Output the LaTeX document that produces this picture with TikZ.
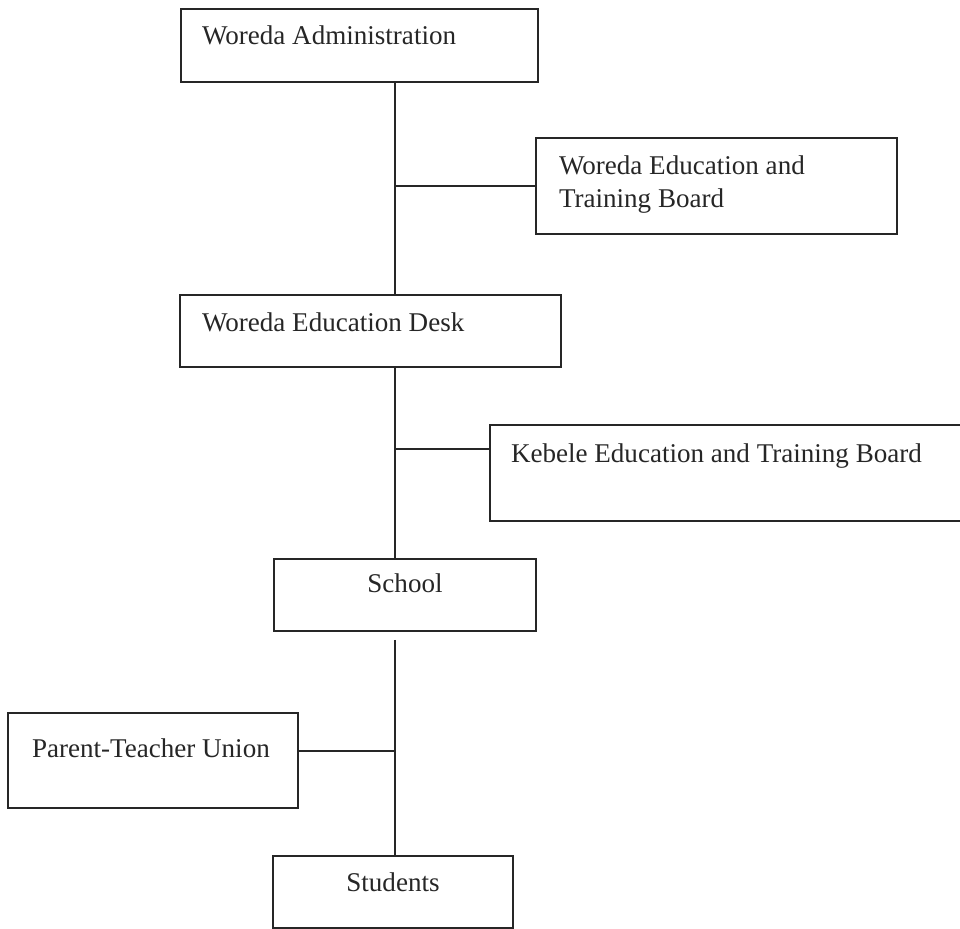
\documentclass[tikz,border=0pt]{standalone}
\usepackage{fontspec}
\setmainfont{Liberation Serif}
\usetikzlibrary{positioning, calc}

\begin{document}
\begin{tikzpicture}[line width=0.95pt, draw=black!85,
    box/.style={draw=black!85, rectangle, inner sep=0pt},
    lbl/.style={anchor=base west, inner sep=0pt, align=left, text=black!85,
                font=\fontsize{15.4}{18.7}\selectfont},
    lblc/.style={lbl, anchor=base}]
  \useasboundingbox (0,0) rectangle (19.2,-18.56);

  % Boxes
  \node[box, minimum width=7.14cm, minimum height=1.46cm,
        label={[lbl, xshift=0.42cm, yshift=-0.72cm]north west:Woreda Administration}]
        (admin) at (7.19,-0.91) {};
  \node[box, minimum width=7.22cm, minimum height=1.92cm,
        label={[lbl, xshift=0.46cm, yshift=-1.40cm]north west:Woreda Education and\\Training Board}]
        (wetb) at (14.33,-3.72) {};
  \node[box, minimum width=7.62cm, minimum height=1.44cm,
        label={[lbl, xshift=0.44cm, yshift=-0.74cm]north west:Woreda Education Desk}]
        (desk) at (7.41,-6.62) {};
  \node[box, minimum width=9.70cm, minimum height=1.92cm,
        label={[lbl, xshift=0.42cm, yshift=-0.76cm]north west:Kebele Education and Training Board}]
        (ketb) at (14.65,-9.46) {};
  \node[box, minimum width=5.24cm, minimum height=1.44cm,
        label={[lblc, yshift=-0.68cm]north:School}]
        (school) at (8.10,-11.90) {};
  \node[box, minimum width=5.80cm, minimum height=1.90cm,
        label={[lbl, xshift=0.48cm, yshift=-0.90cm]north west:Parent-Teacher Union}]
        (ptu) at (3.06,-15.21) {};
  \node[box, minimum width=4.80cm, minimum height=1.44cm,
        label={[lblc, yshift=-0.72cm]north:Students}]
        (students) at (7.86,-17.84) {};

  % Main line
  \coordinate (trunk) at (7.90,0);
  \draw (admin.south -| trunk) -- (desk.north -| trunk);
  \draw (desk.south -| trunk) -- (school.north -| trunk);
  \draw ($(school.south -| trunk)+(0,-0.16)$) -- (students.north -| trunk);

  % Side branches
  \draw (wetb.west) -- (wetb.west -| trunk);
  \draw ($(ketb.west)+(0,0.48)$) -- ($(ketb.west -| trunk)+(0,0.48)$);
  \draw ($(ptu.east)+(0,0.19)$) -- ($(ptu.east -| trunk)+(0,0.19)$);
\end{tikzpicture}
\end{document}
